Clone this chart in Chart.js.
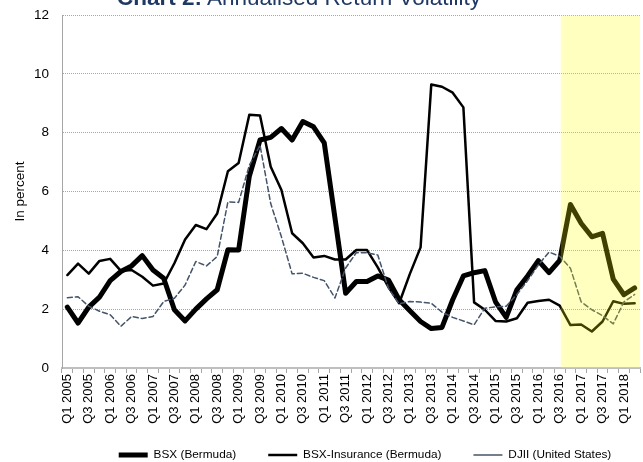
<!DOCTYPE html>
<html>
<head>
<meta charset="utf-8">
<script src="https://cdn.jsdelivr.net/npm/chart.js@4/dist/chart.umd.min.js"></script>
<style>
  body { margin: 0; background: #fff; }
  #wrap { position: relative; width: 643px; height: 462px; overflow: hidden; }
  #title { position: absolute; left: 117px; top: -13px; font: 22.5px/22.5px "Liberation Sans", Arial, sans-serif; color: #1f3864; white-space: nowrap; }
</style>
</head>
<body>
<div id="wrap">
  <canvas id="myChart" width="643" height="462"></canvas>
  <div id="title"><b>Chart 2:</b> Annualised Return Volatility</div>
</div>
<script>
const quarters = [
    'Q1 2005', 'Q2 2005', 'Q3 2005', 'Q4 2005',
    'Q1 2006', 'Q2 2006', 'Q3 2006', 'Q4 2006',
    'Q1 2007', 'Q2 2007', 'Q3 2007', 'Q4 2007',
    'Q1 2008', 'Q2 2008', 'Q3 2008', 'Q4 2008',
    'Q1 2009', 'Q2 2009', 'Q3 2009', 'Q4 2009',
    'Q1 2010', 'Q2 2010', 'Q3 2010', 'Q4 2010',
    'Q1 2011', 'Q2 2011', 'Q3 2011', 'Q4 2011',
    'Q1 2012', 'Q2 2012', 'Q3 2012', 'Q4 2012',
    'Q1 2013', 'Q2 2013', 'Q3 2013', 'Q4 2013',
    'Q1 2014', 'Q2 2014', 'Q3 2014', 'Q4 2014',
    'Q1 2015', 'Q2 2015', 'Q3 2015', 'Q4 2015',
    'Q1 2016', 'Q2 2016', 'Q3 2016', 'Q4 2016',
    'Q1 2017', 'Q2 2017', 'Q3 2017', 'Q4 2017',
    'Q1 2018', 'Q2 2018'
];

const bsx = [
    2.07, 1.53, 2.07, 2.41, 2.97, 3.28, 3.47, 3.82, 3.33, 3.05,
    1.98, 1.60, 2.00, 2.35, 2.66, 4.02, 4.01, 6.52, 7.75, 7.84,
    8.14, 7.75, 8.38, 8.20, 7.65, 5.10, 2.54, 2.94, 2.94, 3.13,
    2.99, 2.32, 1.95, 1.58, 1.34, 1.38, 2.32, 3.13, 3.24, 3.31,
    2.25, 1.72, 2.66, 3.13, 3.65, 3.24, 3.66, 5.56, 4.92, 4.46,
    4.58, 3.02, 2.49, 2.72
];

const bsxInsurance = [
    3.16, 3.55, 3.21, 3.64, 3.71, 3.30, 3.33, 3.10, 2.80, 2.87,
    3.56, 4.37, 4.86, 4.72, 5.25, 6.69, 6.97, 8.61, 8.58, 6.84,
    6.05, 4.58, 4.24, 3.76, 3.81, 3.69, 3.69, 4.01, 4.01, 3.42,
    2.75, 2.20, 3.20, 4.10, 9.64, 9.56, 9.36, 8.86, 2.23, 1.98,
    1.60, 1.58, 1.69, 2.22, 2.28, 2.32, 2.12, 1.46, 1.48, 1.24,
    1.58, 2.27, 2.18, 2.20
];

const djii = [
    2.39, 2.42, 2.10, 1.93, 1.81, 1.42, 1.75, 1.68, 1.75, 2.26,
    2.37, 2.82, 3.62, 3.47, 3.79, 5.65, 5.63, 6.89, 7.57, 5.59,
    4.46, 3.20, 3.22, 3.08, 2.97, 2.38, 3.40, 3.92, 3.92, 3.84,
    2.71, 2.18, 2.26, 2.24, 2.20, 1.90, 1.72, 1.60, 1.47, 2.03,
    2.08, 2.10, 2.50, 2.97, 3.50, 3.94, 3.80, 3.39, 2.25, 1.98,
    1.78, 1.50, 2.25, 2.50
];

const seriesNames = ['BSX (Bermuda)', 'BSX-Insurance (Bermuda)', 'DJII (United States)'];
const highlightFrom = 'Q3 2016';

Chart.defaults.font.family = '"Liberation Sans", Arial, sans-serif';
Chart.defaults.color = '#000';

// yellow band laid over the latest quarters
const highlight = {
    id: 'highlight',
    afterDatasetsDraw(chart) {
        const {ctx, chartArea, scales: {x}} = chart;
        const from = x.getPixelForValue(quarters.indexOf(highlightFrom)) + 1;
        ctx.save();
        ctx.fillStyle = 'rgba(255, 255, 0, 0.25)';
        ctx.fillRect(from, chartArea.top, chartArea.right - from, chartArea.bottom - chartArea.top);
        ctx.restore();
    }
};

// legend sits right of centre and close to the bottom in the original
const legendShift = {
    id: 'legendShift',
    afterLayout(chart) {
        const lg = chart.legend;
        lg.left += 45;
        lg.right += 45;
        lg.top -= 11;
        lg.bottom -= 11;
    }
};

const options = {
    type: 'line',
    data: {
        labels: quarters,
        datasets: [
            {label: seriesNames[0], data: bsx, borderColor: '#000', borderWidth: 5, order: 2},
            {label: seriesNames[1], data: bsxInsurance, borderColor: '#000', borderWidth: 2.5, order: 1},
            {label: seriesNames[2], data: djii, borderColor: '#44546a', borderWidth: 1.5, borderDash: [5, 3], order: 0}
        ]
    },
    options: {
        responsive: false,
        animation: false,
        layout: {padding: {top: 15, right: 3, bottom: -19.8, left: 0}},
        elements: {
            point: {radius: 0},
            line: {tension: 0, borderJoinStyle: 'round', borderCapStyle: 'round', fill: false}
        },
        plugins: {
            tooltip: {enabled: false},
            legend: {
                position: 'bottom',
                labels: {
                    usePointStyle: true,
                    pointStyle: 'line',
                    pointStyleWidth: 29,
                    padding: 32,
                    font: {size: 11.8},
                    color: '#000',
                    sort: (a, b) => a.datasetIndex - b.datasetIndex
                }
            }
        },
        scales: {
            x: {
                offset: true,
                afterFit: (scale) => {
                    scale.height = 60;
                    scale.paddingLeft = 0;
                    scale.paddingRight = 0;
                },
                grid: {
                    offset: true,
                    drawOnChartArea: false,
                    drawTicks: true,
                    tickLength: 5,
                    color: '#a6a6a6'
                },
                border: {color: '#bfbfbf', width: 2},
                ticks: {
                    autoSkip: false,
                    minRotation: 90,
                    maxRotation: 90,
                    padding: 1,
                    font: {size: 13},
                    callback: (v, i) => (i % 2 === 0 ? quarters[i] : '')
                }
            },
            y: {
                min: 0,
                max: 12,
                afterFit: (scale) => {
                    scale.width = 62;
                    scale.paddingTop = 0;
                    scale.paddingBottom = 0;
                },
                grid: {
                    drawTicks: false,
                    color: '#a6a6a6',
                    borderDash: [1, 1]
                },
                border: {color: '#a6a6a6', dash: [1, 1]},
                ticks: {stepSize: 2, padding: 13, font: {size: 13.5}},
                title: {
                    display: true,
                    text: 'In percent',
                    font: {size: 13.5},
                    padding: {top: 12, bottom: 0}
                }
            }
        }
    },
    plugins: [highlight, legendShift]
};

const ctx = document.getElementById('myChart').getContext('2d');
const chart = new Chart(ctx, options);
</script>
</body>
</html>
